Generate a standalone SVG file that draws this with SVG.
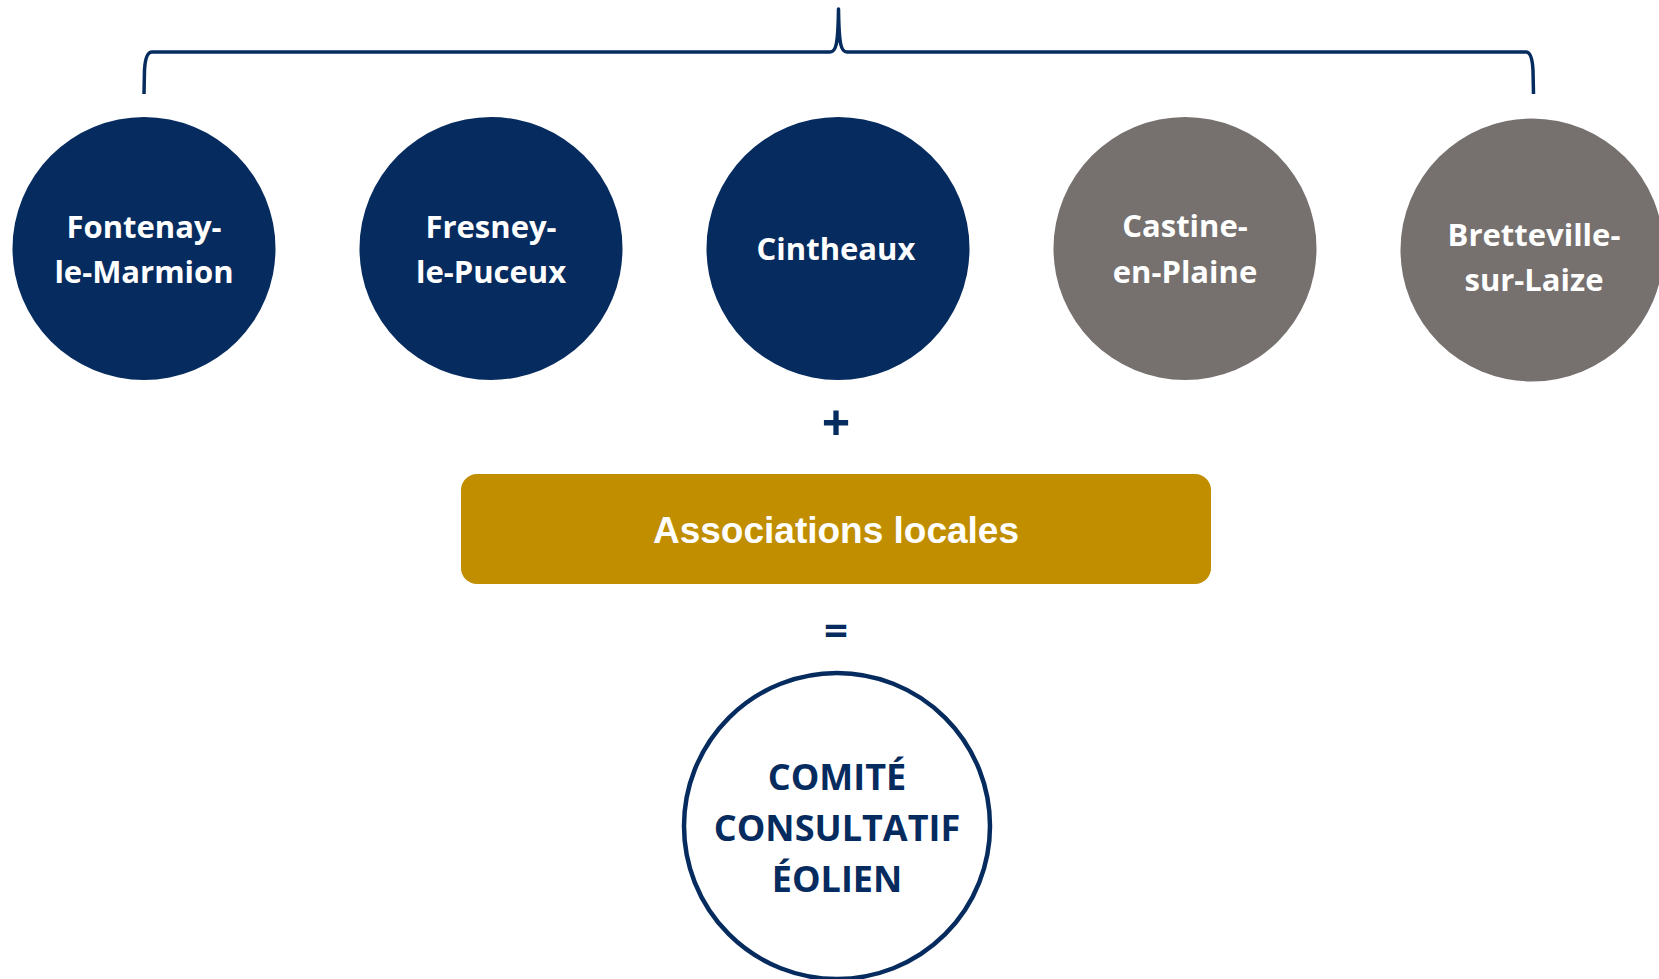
<svg xmlns="http://www.w3.org/2000/svg" width="1659" height="979" viewBox="0 0 1659 979">
<style>
.navy{fill:#062B5F}
.gray{fill:#76716F}
.lbl{font-family:"Open Sans","Liberation Sans",sans-serif;font-weight:700;font-size:31px;fill:#FFFFFF;text-anchor:middle}
.op{font-family:"Open Sans","Liberation Sans",sans-serif;font-weight:700;font-size:42px;fill:#062B5F;text-anchor:middle}
.plus{font-size:50px}
.assoc{font-family:"Liberation Sans",Arial,sans-serif;font-weight:700;font-size:37px;fill:#FFFFFF;text-anchor:middle}
.comite{font-family:"Open Sans","Liberation Sans",sans-serif;font-weight:700;font-size:36px;fill:#062B5F;text-anchor:middle}
</style>
<rect width="1659" height="979" fill="#FFFFFF"/>
<g id="connectors">
<path id="brace" d="M144,94 L144.5,70 Q145.5,52 152,52 L830,52 C836,52 838,45 838.5,9 C839,45 841,52 847,52 L1526,52 Q1532,52 1533,70 L1533.5,94" fill="none" stroke="#062B5F" stroke-width="3.5" stroke-linejoin="round"/>
</g>
<g id="fontenay">
<circle class="navy" cx="144" cy="248.5" r="131.5"/>
<text class="lbl" x="144" y="238">Fontenay-</text>
<text class="lbl" x="144" y="283">le-Marmion</text>
</g>
<g id="fresney">
<circle class="navy" cx="491" cy="248.5" r="131.5"/>
<text class="lbl" x="491" y="238">Fresney-</text>
<text class="lbl" x="491" y="283">le-Puceux</text>
</g>
<g id="cintheaux">
<circle class="navy" cx="838" cy="248.5" r="131.5"/>
<text class="lbl" x="836" y="260">Cintheaux</text>
</g>
<g id="castine">
<circle class="gray" cx="1185" cy="248.5" r="131.5"/>
<text class="lbl" x="1185" y="237">Castine-</text>
<text class="lbl" x="1185" y="283">en-Plaine</text>
</g>
<g id="bretteville">
<circle class="gray" cx="1532" cy="250" r="131.5"/>
<text class="lbl" x="1534" y="246">Bretteville-</text>
<text class="lbl" x="1534" y="291">sur-Laize</text>
</g>
<g id="plus">
<text class="op plus" x="836" y="441">+</text>
</g>
<g id="associations">
<rect x="461" y="474" width="750" height="110" rx="16" ry="16" fill="#C18E00"/>
<text class="assoc" x="836" y="543">Associations locales</text>
</g>
<g id="equals">
<text class="op" x="836" y="645">=</text>
</g>
<g id="comite">
<circle cx="837" cy="826" r="153" fill="#FFFFFF" stroke="#062B5F" stroke-width="4.5"/>
<text class="comite" x="837" y="790">COMITÉ</text>
<text class="comite" x="837" y="841">CONSULTATIF</text>
<text class="comite" x="837" y="892">ÉOLIEN</text>
</g>
</svg>
